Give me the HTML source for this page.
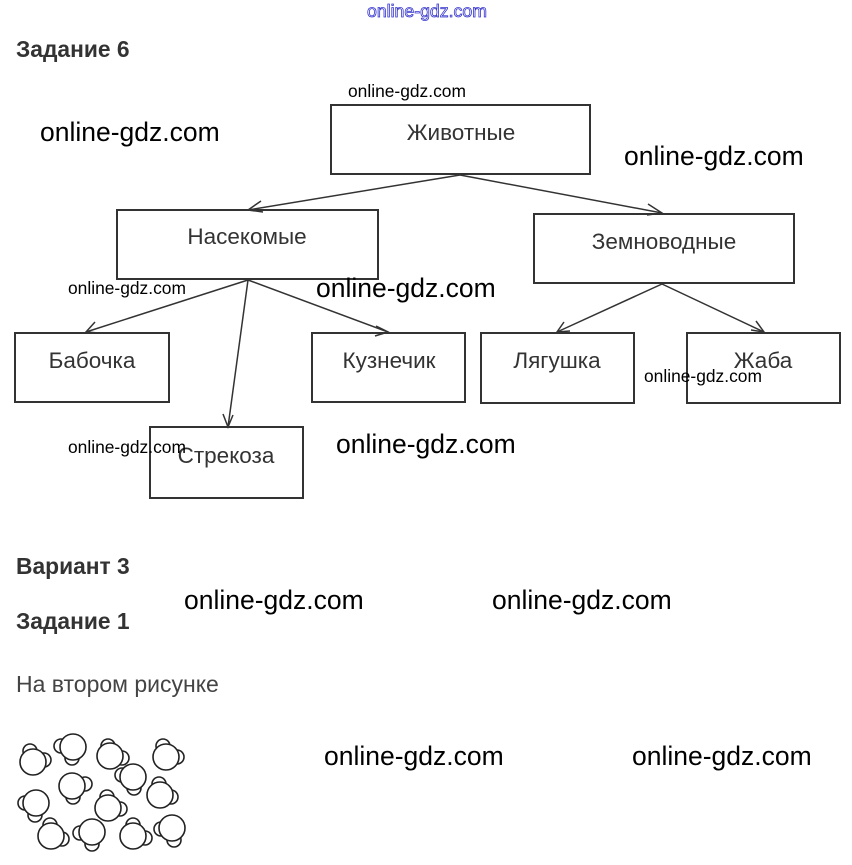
<!DOCTYPE html>
<html><head><meta charset="utf-8"><style>
html,body{margin:0;padding:0;background:#fff;}
svg{display:block;}
text{font-family:"Liberation Sans",Arial,sans-serif;}
.h{font-weight:bold;font-size:22.8px;fill:#333;}
.n{font-size:23px;fill:#444;}
.b{font-size:22.5px;fill:#333;text-anchor:middle;}
.w{font-size:26.5px;fill:#000;}
.ws{font-size:17.4px;fill:#000;}
rect{fill:#fff;stroke:#333;stroke-width:2;}
line{stroke:#333;stroke-width:1.5;}
.a{fill:none;stroke:#333;stroke-width:1.5;}
.m circle{fill:#fff;stroke:#222;stroke-width:1.6;}
</style></head><body>
<svg width="852" height="865" viewBox="0 0 852 865" xmlns="http://www.w3.org/2000/svg">
<text x="367" y="17" font-size="17.7" fill="#fff" stroke="#33c" stroke-width="0.8">online-gdz.com</text>
<text class="h" x="16" y="57">Задание 6</text>

<rect x="331" y="105" width="259" height="69"/>
<rect x="117" y="210" width="261" height="69"/>
<rect x="534" y="214" width="260" height="69"/>
<rect x="15" y="333" width="154" height="69"/>
<rect x="312" y="333" width="153" height="69"/>
<rect x="481" y="333" width="153" height="70"/>
<rect x="687" y="333" width="153" height="70"/>
<rect x="150" y="427" width="153" height="71"/>

<text class="b" x="461" y="140">Животные</text>
<text class="b" x="247" y="244">Насекомые</text>
<text class="b" x="664" y="249">Земноводные</text>
<text class="b" x="92" y="368">Бабочка</text>
<text class="b" x="389" y="368">Кузнечик</text>
<text class="b" x="557" y="368">Лягушка</text>
<text class="b" x="763" y="368">Жаба</text>
<text class="b" x="226" y="463">Стрекоза</text>

<g>
<line x1="460" y1="175" x2="248" y2="210"/>
<line x1="460" y1="175" x2="662" y2="213"/>
<line x1="248" y1="280" x2="86" y2="332"/>
<line x1="248" y1="280" x2="228" y2="427"/>
<line x1="248" y1="280" x2="388" y2="332"/>
<line x1="662" y1="284" x2="557" y2="332"/>
<line x1="662" y1="284" x2="764" y2="332"/>
<polyline class="a" points="261,201 248,210 263,212"/>
<polyline class="a" points="648,204 662,213 647,215"/>
<polyline class="a" points="95,322 86,332 99,333"/>
<polyline class="a" points="223,414 228,427 233,415"/>
<polyline class="a" points="376,326 388,332 375,336"/>
<polyline class="a" points="564,322 557,332 570,331"/>
<polyline class="a" points="751,330 764,332 756,321"/>
</g>

<text class="ws" x="348" y="97">online-gdz.com</text>
<text class="w" x="40" y="141">online-gdz.com</text>
<text class="w" x="624" y="165">online-gdz.com</text>
<text class="ws" x="68" y="294">online-gdz.com</text>
<text class="w" x="316" y="297">online-gdz.com</text>
<text class="ws" x="644" y="382">online-gdz.com</text>
<text class="ws" x="68" y="453">online-gdz.com</text>
<text class="w" x="336" y="453">online-gdz.com</text>

<text class="h" x="16" y="574">Вариант 3</text>
<text class="h" x="16" y="629">Задание 1</text>
<text class="n" x="16" y="692">На втором рисунке</text>
<text class="w" x="184" y="609">online-gdz.com</text>
<text class="w" x="492" y="609">online-gdz.com</text>
<text class="w" x="324" y="765">online-gdz.com</text>
<text class="w" x="632" y="765">online-gdz.com</text>

<g class="m">
<g transform="translate(33,762)"><circle cx="-3" cy="-11" r="7"/><circle cx="11" cy="-2" r="7"/><circle cx="0" cy="0" r="13"/></g>
<g transform="translate(73,747)"><circle cx="-12" cy="-1" r="7"/><circle cx="-1" cy="11" r="7"/><circle cx="0" cy="0" r="13"/></g>
<g transform="translate(110,756)"><circle cx="-2" cy="-10" r="7"/><circle cx="12" cy="2" r="7"/><circle cx="0" cy="0" r="13"/></g>
<g transform="translate(166,757)"><circle cx="-3" cy="-11" r="7"/><circle cx="11" cy="0" r="7"/><circle cx="0" cy="0" r="13"/></g>
<g transform="translate(133,777)"><circle cx="-11" cy="-2" r="7"/><circle cx="1" cy="11" r="7"/><circle cx="0" cy="0" r="13"/></g>
<g transform="translate(72,786)"><circle cx="13" cy="-2" r="7"/><circle cx="1" cy="11" r="7"/><circle cx="0" cy="0" r="13"/></g>
<g transform="translate(160,795)"><circle cx="-1" cy="-11" r="7"/><circle cx="11" cy="2" r="7"/><circle cx="0" cy="0" r="13"/></g>
<g transform="translate(36,803)"><circle cx="-11" cy="0" r="7"/><circle cx="-1" cy="12" r="7"/><circle cx="0" cy="0" r="13"/></g>
<g transform="translate(108,808)"><circle cx="-1" cy="-11" r="7"/><circle cx="12" cy="1" r="7"/><circle cx="0" cy="0" r="13"/></g>
<g transform="translate(51,836)"><circle cx="-1" cy="-11" r="7"/><circle cx="11" cy="3" r="7"/><circle cx="0" cy="0" r="13"/></g>
<g transform="translate(92,832)"><circle cx="-12" cy="1" r="7"/><circle cx="0" cy="12" r="7"/><circle cx="0" cy="0" r="13"/></g>
<g transform="translate(133,836)"><circle cx="0" cy="-11" r="7"/><circle cx="12" cy="2" r="7"/><circle cx="0" cy="0" r="13"/></g>
<g transform="translate(172,828)"><circle cx="-11" cy="1" r="7"/><circle cx="2" cy="12" r="7"/><circle cx="0" cy="0" r="13"/></g>
</g>
</svg>
</body></html>
